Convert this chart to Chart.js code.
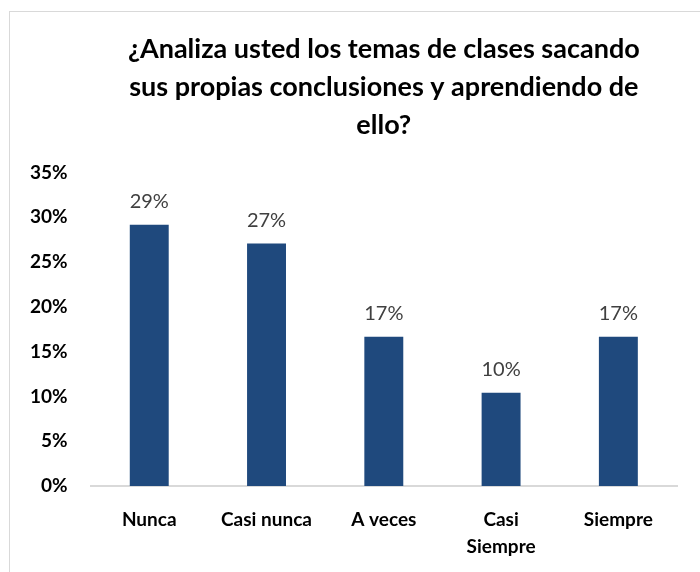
<!DOCTYPE html><html lang="es"><meta charset="utf-8">
<title>¿Analiza usted los temas de clases?</title>
<script src="https://cdn.jsdelivr.net/npm/chart.js@4.4.1"></script>
<style>
html,body{margin:0;padding:0;background:#fff;overflow:hidden}
#wrap{position:absolute;left:0;top:0;width:700px;height:572px}
</style>
<body>
<div id="wrap"><canvas id="chart" width="700" height="572"></canvas></div>
<script>
const titleLines = ['¿Analiza usted los temas de clases sacando','sus propias conclusiones y aprendiendo de','ello?'];
const categories = ['Nunca','Casi nunca','A veces',['Casi','Siempre'],'Siempre'];
const values     = [0.2917, 0.2708, 0.1667, 0.1042, 0.1667];

const FONT = 'Lato, "Open Sans", sans-serif';

// marco gris del gráfico (solo borde superior e izquierdo entran en la imagen)
const frame = {
  id:'frame',
  beforeDraw(c){
    const g = c.ctx;
    g.save();
    g.strokeStyle = '#d9d9d9'; g.lineWidth = 1;
    g.strokeRect(9.5, 11.5, 720, 600);
    g.restore();
  }
};

// etiquetas de valor encima de cada barra
const barLabels = {
  id:'barLabels',
  afterDatasetsDraw(c){
    const g = c.ctx;
    g.save();
    g.font = '20px ' + FONT;
    g.fillStyle = '#404040';
    g.textAlign = 'center'; g.textBaseline = 'alphabetic';
    c.getDatasetMeta(0).data.forEach((bar,i)=>{
      g.fillText(Math.round(values[i]*100)+'%', bar.x, bar.y - 17);
    });
    g.restore();
  }
};

new Chart(document.getElementById('chart'),{
  type:'bar',
  data:{labels:categories,datasets:[{
    data:values, backgroundColor:'#1f497d', borderWidth:0,
    barPercentage:0.332, categoryPercentage:1
  }]},
  options:{
    responsive:false, animation:false,
    layout:{padding:{left:15,right:23,top:0,bottom:0}},
    plugins:{
      legend:{display:false}, tooltip:{enabled:false},
      title:{display:true,fullSize:false,text:titleLines,color:'#000',
        font:{family:FONT,size:27,weight:'bold',lineHeight:1.39},
        padding:{top:31,bottom:29}}
    },
    scales:{
      y:{min:0,max:0.35,
        ticks:{stepSize:0.05,padding:15,color:'#000',
          font:{family:FONT,size:19,weight:'bold'},
          callback:v=>Math.round(v*100)+'%'},
        grid:{display:false}, border:{display:false}},
      x:{
        ticks:{padding:12,color:'#000',maxRotation:0,autoSkip:false,
          font:{family:FONT,size:19,weight:'bold',lineHeight:1.42}},
        grid:{display:false},
        border:{display:true,color:'#d9d9d9',width:2}}
    }
  },
  plugins:[frame,barLabels]
});
</script>
</body></html>
